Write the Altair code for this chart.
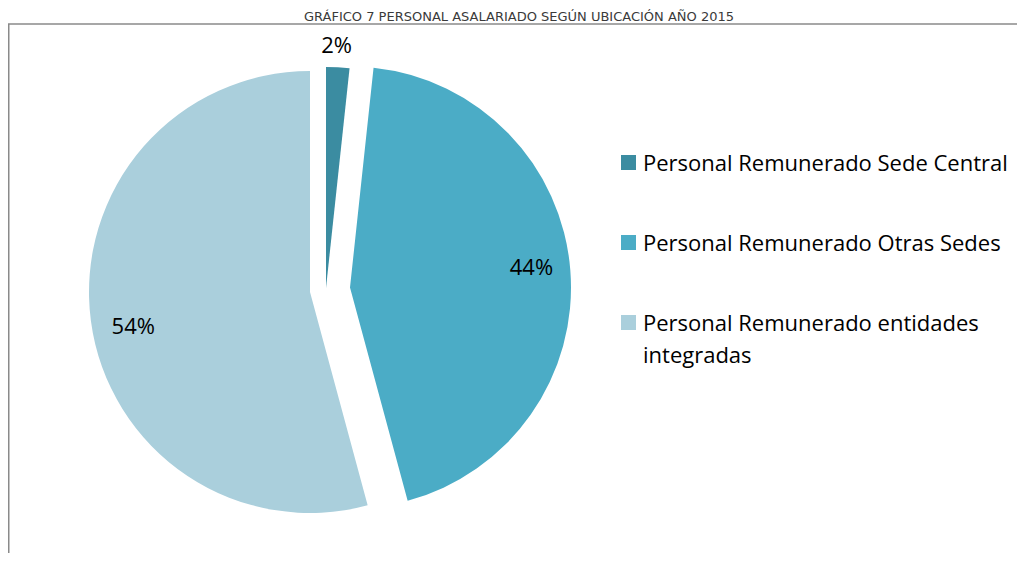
import math
import altair as alt
import pandas as pd

# ---- data ----
categories = [
    "Personal Remunerado Sede Central",
    "Personal Remunerado Otras Sedes",
    "Personal Remunerado entidades integradas",
]
legend_labels = [
    "Personal Remunerado Sede Central",
    "Personal Remunerado Otras Sedes",
    "Personal Remunerado entidades\nintegradas",
]
values = [1.7, 44.1, 54.2]
order = [0, 1, 2]
title_text = "GRÁFICO 7 PERSONAL ASALARIADO SEGÚN UBICACIÓN AÑO 2015"

# ---- style ----
colors = ["#3B8CA1", "#4BACC6", "#AACFDC"]
FONT = "Open Sans"
W, H = 1009, 545
RADIUS = 221
# exploded slice centres and label placement (pixels)
SLICE_STYLE = {
    categories[0]: dict(cx=318, cy=280, r_lab=242.6, dx=-2.3, dy=0),
    categories[1]: dict(cx=342, cy=279.5, r_lab=182, dx=0, dy=-5.7),
    categories[2]: dict(cx=302, cy=284, r_lab=178.3, dx=0, dy=12),
}

df = pd.DataFrame({"cat": categories, "label": legend_labels,
                   "value": values, "order": order})

base = (
    alt.Chart(df)
    .transform_joinaggregate(total="sum(value)")
    .transform_stack(stack="value", as_=["s0", "s1"], groupby=[],
                     sort=[alt.SortField("order", order="ascending")])
    .transform_calculate(
        f0="datum.s0 / datum.total",
        f1="datum.s1 / datum.total",
        fm="(datum.s0 + datum.s1) / 2 / datum.total",
        pct="datum.value / datum.total",
    )
)

theta_scale = alt.Scale(domain=[0, 1], range=[0, 2 * math.pi])
color = alt.Color("cat:N", scale=alt.Scale(domain=categories, range=colors), legend=None)

layers = []
for c in categories:
    st = SLICE_STYLE[c]
    f = base.transform_filter(alt.datum.cat == c)
    arc = f.mark_arc(radius=RADIUS).encode(
        theta=alt.Theta("f0:Q", scale=theta_scale, stack=False),
        theta2="f1:Q",
        color=color,
        x=alt.value(st["cx"]),
        y=alt.value(st["cy"]),
    )
    lab = f.mark_text(font=FONT, fontSize=22, color="#000000",
                      dx=st["dx"], dy=st["dy"]).encode(
        theta=alt.Theta("fm:Q", scale=theta_scale, stack=False),
        radius=alt.value(st["r_lab"]),
        text=alt.Text("pct:Q", format=".0%"),
        x=alt.value(st["cx"]),
        y=alt.value(st["cy"]),
    )
    layers += [arc, lab]

leg_y = alt.Y("order:O", axis=None,
              scale=alt.Scale(type="point", range=[154.5, 314.5], padding=0))
legend_sq = alt.Chart(df).mark_square(size=225, opacity=1).encode(
    x=alt.value(620.5), y=leg_y, color=color)
legend_txt = alt.Chart(df).mark_text(
    align="left", baseline="alphabetic", dy=8, font=FONT, fontSize=22,
    lineBreak="\n", lineHeight=32, color="#000000").encode(
    x=alt.value(635), y=leg_y, text="label:N")

title = alt.Chart(pd.DataFrame({"t": [title_text]})).mark_text(
    font="DejaVu Sans", fontSize=13, color="#3a3a3a", baseline="alphabetic").encode(
    x=alt.value(511), y=alt.value(13), text="t:N")

frame_df = pd.DataFrame({"a": [0]})
top_rule = alt.Chart(frame_df).mark_rule(color="#8a8a8a", strokeWidth=1.5).encode(
    x=alt.value(0), x2=alt.value(W), y=alt.value(16))
left_rule = alt.Chart(frame_df).mark_rule(color="#8a8a8a", strokeWidth=1.5).encode(
    x=alt.value(0.75), y=alt.value(16), y2=alt.value(H))

chart = alt.layer(top_rule, left_rule, title, *layers, legend_sq, legend_txt).properties(
    width=W, height=H, padding=0,
    autosize=alt.AutoSizeParams(type="none"),
).configure_view(stroke=None)

chart.save("out.html", embed_options={"renderer": "svg", "actions": False})
